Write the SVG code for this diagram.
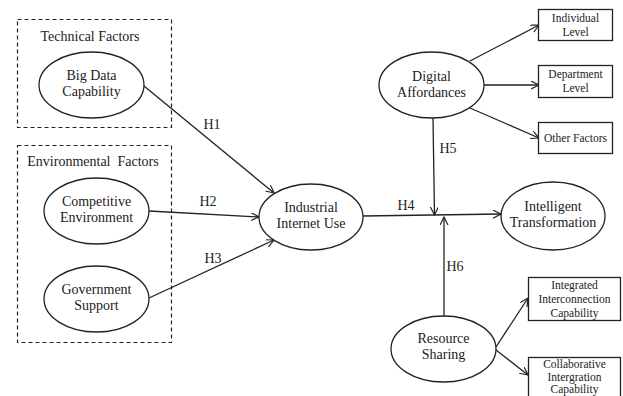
<svg xmlns="http://www.w3.org/2000/svg" width="623" height="396" viewBox="0 0 623 396">
<defs>
<marker id="arr" markerWidth="10" markerHeight="10" refX="8" refY="4" orient="auto" markerUnits="userSpaceOnUse">
<path d="M0,0 L8,4 L0,8" fill="none" stroke="#222" stroke-width="1.2"/>
</marker>
<style>
text{font-family:"Liberation Serif","Times New Roman",serif;fill:#222;text-anchor:middle}
.t{font-size:14px}
.s{font-size:11.5px}
ellipse{fill:#fff;stroke:#222;stroke-width:1.3}
.box{fill:#fff;stroke:#222;stroke-width:1.3}
.dash{fill:none;stroke:#222;stroke-width:1.2;stroke-dasharray:4,3}
.c{stroke:#222;stroke-width:1.3;fill:none;marker-end:url(#arr)}
</style>
</defs>
<rect width="623" height="396" fill="#fff"/>
<g id="technical-factors">
<rect class="dash" x="17.5" y="19.5" width="154" height="108"/>
<text class="t" x="90" y="41">Technical Factors</text>
</g>
<g id="environmental-factors">
<rect class="dash" x="17.5" y="145.5" width="154" height="197"/>
<text class="t" x="93" y="166" xml:space="preserve">Environmental  Factors</text>
</g>
<g id="connectors">
<line class="c" x1="144" y1="86" x2="274" y2="193"/>
<line class="c" x1="149" y1="211" x2="259" y2="217"/>
<line class="c" x1="149" y1="298" x2="274" y2="240"/>
<line class="c" x1="363" y1="216" x2="501" y2="214"/>
<line class="c" x1="433" y1="118" x2="434.5" y2="215"/>
<line class="c" x1="444" y1="316" x2="444" y2="217"/>
<line class="c" x1="470" y1="61" x2="539" y2="25"/>
<line class="c" x1="484" y1="85" x2="539" y2="85"/>
<line class="c" x1="470" y1="108" x2="539" y2="138"/>
<line class="c" x1="496" y1="347" x2="528" y2="298"/>
<line class="c" x1="496" y1="350" x2="528" y2="375"/>
<text class="t" x="212" y="129">H1</text>
<text class="t" x="208" y="206">H2</text>
<text class="t" x="213" y="263">H3</text>
<text class="t" x="406" y="210">H4</text>
<text class="t" x="448" y="153">H5</text>
<text class="t" x="455" y="271">H6</text>
</g>
<g id="big-data-capability">
<ellipse cx="91.5" cy="85" rx="52.5" ry="33"/>
<text class="t" x="91.5" y="80">Big Data</text>
<text class="t" x="91.5" y="96">Capability</text>
</g>
<g id="competitive-environment">
<ellipse cx="96.5" cy="211" rx="52.5" ry="33"/>
<text class="t" x="96.5" y="206">Competitive</text>
<text class="t" x="96.5" y="222">Environment</text>
</g>
<g id="government-support">
<ellipse cx="96.5" cy="299" rx="52.5" ry="33"/>
<text class="t" x="96.5" y="294">Government</text>
<text class="t" x="96.5" y="310">Support</text>
</g>
<g id="industrial-internet-use">
<ellipse cx="311" cy="217" rx="52" ry="33"/>
<text class="t" x="311" y="212">Industrial</text>
<text class="t" x="311" y="228">Internet Use</text>
</g>
<g id="digital-affordances">
<ellipse cx="431.5" cy="85" rx="52.5" ry="33"/>
<text class="t" x="431.5" y="81">Digital</text>
<text class="t" x="431.5" y="97">Affordances</text>
</g>
<g id="intelligent-transformation">
<ellipse cx="553" cy="216" rx="52" ry="34"/>
<text class="t" x="553" y="211">Intelligent</text>
<text class="t" x="553" y="227">Transformation</text>
</g>
<g id="resource-sharing">
<ellipse cx="443.5" cy="349" rx="52.5" ry="33"/>
<text class="t" x="443.5" y="343">Resource</text>
<text class="t" x="443.5" y="359">Sharing</text>
</g>
<g id="individual-level">
<rect class="box" x="538.5" y="9.5" width="74" height="31"/>
<text class="s" x="575.5" y="22">Individual</text>
<text class="s" x="575.5" y="36">Level</text>
</g>
<g id="department-level">
<rect class="box" x="538.5" y="65.5" width="74" height="32"/>
<text class="s" x="575.5" y="78">Department</text>
<text class="s" x="575.5" y="92">Level</text>
</g>
<g id="other-factors">
<rect class="box" x="538.5" y="122.5" width="74" height="31"/>
<text class="s" x="575.5" y="142">Other Factors</text>
</g>
<g id="integrated-interconnection-capability">
<rect class="box" x="528.5" y="277.5" width="92" height="43"/>
<text class="s" x="574.5" y="289">Integrated</text>
<text class="s" x="574.5" y="303">Interconnection</text>
<text class="s" x="574.5" y="317">Capability</text>
</g>
<g id="collaborative-intergration-capability">
<rect class="box" x="528.5" y="357.5" width="92" height="45"/>
<text class="s" x="574.5" y="368">Collaborative</text>
<text class="s" x="574.5" y="381">Intergration</text>
<text class="s" x="574.5" y="393">Capability</text>
</g>
</svg>
